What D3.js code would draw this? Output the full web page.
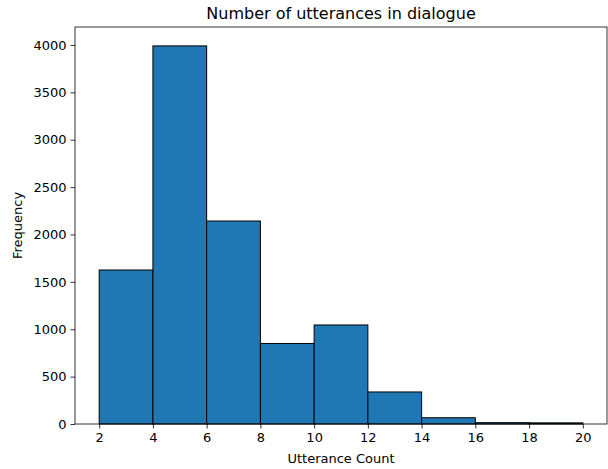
<!DOCTYPE html>
<html>
<head>
<meta charset="utf-8">
<script src="https://cdn.jsdelivr.net/npm/d3@7"></script>
<style>
  body { margin: 0; background: #fff; }
  text { font-family: "DejaVu Sans", sans-serif; fill: #000; }
</style>
</head>
<body>
<svg id="chart" width="608" height="469"></svg>
<script>
// histogram bins (edges) and counts
var binEdges = [2, 4, 6, 8, 10, 12, 14, 16, 18, 20];
var counts = [1625, 3990, 2142, 850, 1045, 338, 66, 14, 12];
var xTicks = [2, 4, 6, 8, 10, 12, 14, 16, 18, 20];
var yTicks = [0, 500, 1000, 1500, 2000, 2500, 3000, 3500, 4000];

var bins = counts.map(function(c, i) {
  return {x0: binEdges[i], x1: binEdges[i + 1], count: c};
});

var margin = {top: 27, right: 1, bottom: 45, left: 75};
var width = 608 - margin.left - margin.right;
var height = 469 - margin.top - margin.bottom;

var svg = d3.select("#chart");
var g = svg.append("g")
    .attr("transform", "translate(" + margin.left + "," + margin.top + ")");

// matplotlib style 5% margins on x, top margin on y
var x = d3.scaleLinear().domain([1.1, 20.9]).range([0, width]);
var y = d3.scaleLinear().domain([0, 3990 * 1.05]).range([height, 0]);

g.selectAll("rect.bar")
    .data(bins)
  .enter().append("rect")
    .attr("class", "bar")
    .attr("x", function(d) { return x(d.x0); })
    .attr("y", function(d) { return y(d.count); })
    .attr("width", function(d) { return x(d.x1) - x(d.x0); })
    .attr("height", function(d) { return y(0) - y(d.count); })
    .style("fill", "#1f77b4")
    .style("stroke", "#000")
    .style("stroke-width", 1);

var xAxis = d3.axisBottom(x).tickValues(xTicks).tickFormat(d3.format("d")).tickSize(4.5).tickPadding(4);
var yAxis = d3.axisLeft(y).tickValues(yTicks).tickFormat(d3.format("d")).tickSize(4.5).tickPadding(4);

var gx = g.append("g")
    .attr("transform", "translate(0," + height + ")")
    .call(xAxis);
var gy = g.append("g").call(yAxis);

[gx, gy].forEach(function(a) {
  a.select(".domain").remove();
  a.selectAll("text").style("font-size", "13px").style("font-family", "DejaVu Sans, sans-serif").attr("fill", "#000");
  a.selectAll("line").attr("stroke", "#000").attr("stroke-width", 0.8);
});

// frame
g.append("rect")
    .attr("width", width)
    .attr("height", height)
    .style("fill", "none")
    .style("stroke", "#000")
    .style("stroke-width", 0.8);

svg.append("text")
    .attr("x", margin.left + width / 2)
    .attr("y", 19)
    .style("text-anchor", "middle")
    .style("font-size", "16px")
    .text("Number of utterances in dialogue");

svg.append("text")
    .attr("x", margin.left + width / 2)
    .attr("y", 463)
    .style("text-anchor", "middle")
    .style("font-size", "13px")
    .text("Utterance Count");

svg.append("text")
    .attr("transform", "rotate(-90)")
    .attr("x", -(margin.top + height / 2))
    .attr("y", 22)
    .style("text-anchor", "middle")
    .style("font-size", "13px")
    .text("Frequency");
</script>
</body>
</html>
